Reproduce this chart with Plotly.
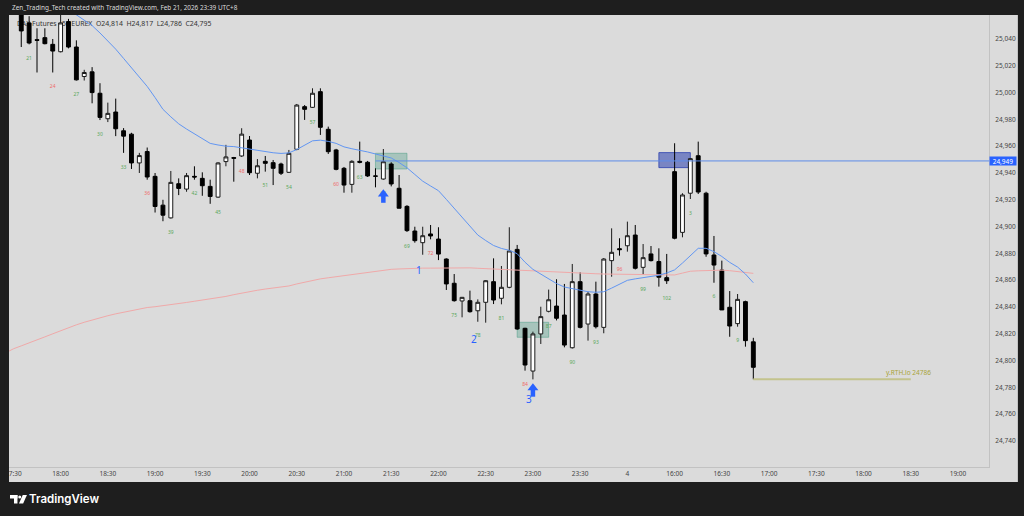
import plotly.graph_objects as go

# ---------------- data ----------------
bar_idx = list(range(1, 95))
opens = [25058, 25052, 25039.5, 25041, 25036, 25030.5, 25053, 25034, 25012, 25015.5,
         24999.5, 24980.5, 24985.5, 24971.5, 24969, 24947.5, 24956, 24937.5, 24916, 24906.5,
         24932, 24928, 24937.5, 24936, 24930, 24922, 24948.5, 24951.5, 24952.7, 24964.6,
         24939.8, 24948.7, 24947.7, 24946.7, 24940.5, 24957.7, 24989.5, 24989, 25000.7, 24972.6,
         24957.2, 24943.5, 24931.5, 24948.7, 24948, 24937.8, 24935.5, 24946.7, 24928.6, 24915.1,
         24896.7, 24888, 24894.5, 24890.7, 24875.8, 24857.7, 24844.5, 24844.7, 24837.2, 24843.5,
         24858.9, 24846.5, 24854.7, 24883, 24824.1, 24792.2, 24819.9, 24836.8, 24840.7, 24834,
         24809.6, 24858.9, 24827.3, 24849.7, 24824.8, 24874.6, 24883.5, 24885.7, 24893.7, 24869.6,
         24879.6, 24873.9, 24861.9, 24941, 24895.7, 24924.9, 24952.9, 24924.9, 24878.8, 24867.6,
         24839.8, 24827.6, 24844, 24814]
highs = [25062, 25057, 25048, 25048, 25040, 25058, 25055, 25039, 25017, 25019,
         25007, 24992.5, 24995.5, 24973.5, 24970, 24955, 24959, 24940, 24920, 24941.5,
         24936, 24940, 24945, 24940.5, 24935, 24948, 24961, 24952, 24973.4, 24967.6,
         24950.4, 24952.7, 24949.7, 24947.7, 24957.2, 24991.5, 24990.7, 25003.2, 25003.2, 24974.6,
         24958, 24944.5, 24949.5, 24963.4, 24949, 24943.5, 24957.9, 24948, 24938.5, 24916,
         24899.9, 24899.9, 24901.2, 24899.5, 24876.3, 24864.6, 24847.5, 24852.2, 24845.7, 24860,
         24876.3, 24870.6, 24899.5, 24886.3, 24824.5, 24821.6, 24840.2, 24853, 24860.7, 24857.2,
         24872.1, 24865.9, 24851.4, 24858.9, 24876.5, 24898.7, 24891.3, 24903.7, 24901.2, 24887,
         24885.5, 24883.8, 24879.6, 24962.2, 24924.9, 24951.2, 24963.4, 24926, 24893, 24874.6,
         24851.9, 24849.7, 24844.7, 24817]
lows = [25034, 25036, 25015, 25036, 25015, 25030, 25033, 25009, 25009, 24992,
        24979.5, 24978, 24967.5, 24955, 24943, 24940, 24935, 24910.5, 24904, 24906,
        24923.5, 24926, 24935, 24923, 24917, 24921.5, 24945, 24933.5, 24952, 24938.5,
        24936, 24941, 24931, 24938.5, 24940, 24957, 24979.6, 24988.5, 24968.4, 24954.2,
        24942, 24925.3, 24925.3, 24947.2, 24937, 24929.3, 24935, 24930, 24913.7, 24896,
        24888, 24879, 24890.5, 24875, 24852.7, 24844, 24832.3, 24835.8, 24829, 24828.3,
        24842.2, 24842, 24854, 24823, 24792.5, 24786, 24812.4, 24836, 24830, 24809.9,
        24809, 24824, 24814.9, 24824, 24820.4, 24862.6, 24878.3, 24881.3, 24868, 24864,
        24874, 24855.2, 24857.2, 24890.5, 24892, 24920.6, 24924.3, 24877.5, 24858.1, 24837.8,
        24817.8, 24825.3, 24810.4, 24786]
closes = [25046, 25037, 25039, 25036.5, 25031, 25052, 25034, 25009.5, 25015, 25000,
          24981.5, 24984.5, 24973, 24967.5, 24947.5, 24953, 24937, 24915, 24908.5, 24933,
          24928.5, 24938, 24937, 24930.5, 24922.5, 24947.5, 24952, 24951, 24969, 24940.2,
          24945.4, 24947.2, 24943.5, 24939.8, 24954.7, 24990.7, 24987.5, 24999.5, 24974.1, 24955.9,
          24942.7, 24931, 24948.7, 24948, 24937.8, 24937.6, 24948.4, 24931.8, 24913.7, 24897,
          24889.5, 24893.2, 24893, 24879.5, 24857.2, 24844.7, 24847.2, 24836.5, 24843.5, 24859.6,
          24845.2, 24854.7, 24881.8, 24823.6, 24796.7, 24819.9, 24832.8, 24845.4, 24831.6, 24811.6,
          24858.9, 24824.8, 24849.7, 24825.3, 24875.8, 24880.8, 24882.8, 24893.2, 24868.9, 24876.8,
          24874.6, 24862.2, 24859.6, 24891.3, 24923.6, 24950.7, 24925.8, 24879.6, 24871.3, 24837.8,
          24825.8, 24845.7, 24814.9, 24795]

ema_fast_idx = list(range(6, 95))
ema_fast = [25066.1, 25062.0, 25058.1, 25054.0, 25050.0, 25044.5, 25038.6, 25032.4, 25025.5, 25018.7,
            25011.8, 25004.6, 24996.3, 24987.5, 24981.9, 24976.7, 24972.8, 24969.2, 24965.6, 24962.1,
            24960.9, 24960.0, 24959.7, 24958.8, 24957.7, 24956.7, 24955.9, 24955.1, 24954.6, 24955.0,
            24957.5, 24960.6, 24964.0, 24964.5, 24963.6, 24962.1, 24959.5, 24958.1, 24957.0, 24955.7,
            24954.2, 24952.7, 24951.2, 24947.8, 24943.9, 24938.9, 24933.9, 24930.3, 24926.8, 24920.3,
            24913.7, 24906.9, 24899.9, 24893.7, 24889.6, 24885.9, 24883.7, 24882.3, 24879.8, 24873.4,
            24868.1, 24864.6, 24861.0, 24857.5, 24854.9, 24853.9, 24852.8, 24851.4, 24851.0, 24851.4,
            24854.1, 24856.9, 24859.9, 24861.0, 24862.0, 24862.9, 24863.7, 24865.4, 24867.7, 24872.8,
            24878.3, 24883.8, 24883.8, 24881.3, 24877.7, 24873.3, 24869.8, 24864.6, 24858.1]

ema_slow_idx = list(range(-1, 95))
ema_slow = [24805.7, 24808.8, 24811.0, 24813.1, 24815.3, 24817.7, 24820.0, 24822.4, 24824.7, 24826.7,
            24828.6, 24830.4, 24832.1, 24833.5, 24834.9, 24836.2, 24837.3, 24838.4, 24839.6, 24840.2,
            24840.9, 24841.6, 24842.5, 24843.4, 24844.3, 24845.1, 24845.9, 24846.7, 24847.9, 24849.2,
            24850.4, 24851.5, 24852.5, 24853.4, 24854.0, 24854.7, 24855.7, 24857.2, 24858.6, 24860.1,
            24861.0, 24861.8, 24862.6, 24863.5, 24864.5, 24865.3, 24866.0, 24866.7, 24867.4, 24868.1,
            24868.4, 24868.7, 24868.9, 24869.0, 24869.0, 24869.1, 24869.2, 24869.2, 24869.3, 24869.2,
            24868.9, 24868.6, 24868.4, 24868.1, 24867.8, 24867.5, 24867.2, 24866.9, 24866.5, 24866.1,
            24865.8, 24865.5, 24865.3, 24865.1, 24864.9, 24864.8, 24864.6, 24864.5, 24864.4, 24864.3,
            24864.2, 24864.1, 24864.0, 24863.9, 24863.9, 24863.9, 24865.3, 24866.7, 24867.0, 24867.2,
            24867.4, 24867.5, 24867.1, 24866.4, 24865.8, 24865.1]

count_idx = [2, 5, 8, 11, 14, 17, 20, 23, 26, 29, 32, 35, 38, 41, 44, 47, 50, 53, 56, 59,
             62, 65, 68, 71, 74, 77, 80, 83, 86, 89, 92]
count_txt = ["21", "24", "27", "30", "33", "36", "39", "42", "45", "48", "51", "54", "57", "60",
             "63", "66", "69", "72", "75", "78", "81", "84", "87", "90", "93", "96", "99", "102",
             "3", "6", "9"]

tick_idx = [0, 6, 12, 18, 24, 30, 36, 42, 48, 54, 60, 66, 72, 78, 84, 90, 96, 102, 108, 114, 120]
tick_txt = ["17:30", "18:00", "18:30", "19:00", "19:30", "20:00", "20:30", "21:00", "21:30",
            "22:00", "22:30", "23:00", "23:30", "4", "16:00", "16:30", "17:00", "17:30",
            "18:00", "18:30", "19:00"]
price_ticks = list(range(24740, 25041, 20))

zone_from = [46, 64, 82]
zone_to = [50, 68, 86]
zone_top = [24954.7, 24828.6, 24955.2]
zone_bot = [24943.0, 24817.4, 24944.0]

signal_idx = [47, 66]
signal_tip = [24927.8, 24783.1]

wave_idx = [51.5, 58.5, 65.5]
wave_price = [24867.6, 24816.1, 24771.3]
wave_txt = ["1", "2", "3"]

level_price = 24949
level_from = 46
rth_lo = 24786
rth_from = 94
rth_to = 114

# ---------------- layout constants ----------------
W, H = 1024, 516
L, R, T, B = 5, 35, 15, 49
X_MIN, X_MAX = -0.557, 123.94
Y_MIN, Y_MAX = 24720.6, 25057.9
PW, PH = W - L - R, H - T - B
PX_PRICE = (Y_MAX - Y_MIN) / PH   # price units per pixel
FONT = "Noto Sans"
BLUE = "#2962ff"


def px(x):
    return (x - L) / PW


def py(y):
    return (H - B - y) / PH


fig = go.Figure()

fig.add_trace(go.Scatter(x=ema_slow_idx, y=ema_slow, mode="lines",
                         line=dict(color="#f0a9a9", width=1), hoverinfo="skip"))
fig.add_trace(go.Scatter(x=ema_fast_idx, y=ema_fast, mode="lines",
                         line=dict(color="#6296f2", width=1), hoverinfo="skip"))
fig.add_trace(go.Scatter(x=[level_from, X_MAX], y=[level_price, level_price], mode="lines",
                         line=dict(color="#5d8ce8", width=1), hoverinfo="skip"))
fig.add_trace(go.Scatter(x=[rth_from, rth_to], y=[rth_lo, rth_lo], mode="lines",
                         line=dict(color="#c3c38d", width=2), hoverinfo="skip"))

fig.add_trace(go.Candlestick(
    x=bar_idx, open=opens, high=highs, low=lows, close=closes,
    increasing=dict(fillcolor="#ffffff", line=dict(color="#1a1a1a", width=1)),
    decreasing=dict(fillcolor="#000000", line=dict(color="#000000", width=1)),
    whiskerwidth=0, hoverinfo="skip"))

low_by_idx = dict(zip(bar_idx, lows))
fig.add_trace(go.Scatter(
    x=count_idx, y=[low_by_idx[i] - 14.5 * PX_PRICE for i in count_idx], mode="text", text=count_txt,
    textfont=dict(family=FONT, size=5,
                  color=["#ef6a6a" if int(t) % 12 == 0 else "#5aa85a" for t in count_txt]),
    hoverinfo="skip"))

# signal arrows: shaft + head
fig.add_trace(go.Scatter(
    x=signal_idx, y=[p - 9.6 * PX_PRICE for p in signal_tip], mode="markers",
    marker=dict(symbol="line-ns", size=5.5, line=dict(color=BLUE, width=4.5)), hoverinfo="skip"))
fig.add_trace(go.Scatter(
    x=signal_idx, y=[p - 4.7 * PX_PRICE for p in signal_tip], mode="markers",
    marker=dict(symbol="triangle-up", size=9.5, color=BLUE, line=dict(width=0)), hoverinfo="skip"))

shapes = []
shapes.append(dict(type="rect", xref="paper", yref="paper", x0=0, x1=px(1018), y0=py(482), y1=1,
                   fillcolor="#dbdbdb", line=dict(width=0), layer="below"))
shapes.append(dict(type="rect", xref="paper", yref="paper", x0=px(10), x1=px(320), y0=py(28.5), y1=py(19.5),
                   fillcolor="rgba(0,0,0,0)", line=dict(width=0), layer="below",
                   label=dict(text="DAX Futures · 5 · EUREX  O24,814  H24,817  L24,786  C24,795",
                              textposition="middle left", padding=0,
                              font=dict(family=FONT, size=6.9, color="#333333"))))
zone_fill = ["rgba(60,150,125,0.32)", "rgba(60,150,125,0.32)", "rgba(40,62,175,0.55)"]
zone_line = ["rgba(60,150,125,0.45)", "rgba(60,150,125,0.45)", "rgba(40,62,175,0.75)"]
for k in range(len(zone_from)):
    shapes.append(dict(type="rect", xref="x", yref="y", x0=zone_from[k], x1=zone_to[k],
                       y0=zone_bot[k], y1=zone_top[k], fillcolor=zone_fill[k],
                       line=dict(color=zone_line[k], width=1), layer="below"))
shapes.append(dict(type="rect", xref="paper", yref="paper", x0=px(0), x1=px(5), y0=py(482), y1=1,
                   fillcolor="#1e1e1e", line=dict(width=0), layer="above"))
# TradingView logo mark
shapes.append(dict(type="rect", xref="paper", yref="paper", x0=px(6), x1=px(13.5), y0=py(498.5), y1=py(495),
                   fillcolor="#ffffff", line=dict(width=0), layer="above"))
shapes.append(dict(type="rect", xref="paper", yref="paper", x0=px(10), x1=px(13.5), y0=py(503.5), y1=py(495),
                   fillcolor="#ffffff", line=dict(width=0), layer="above"))
shapes.append(dict(type="circle", xref="paper", yref="paper", x0=px(14.3), x1=px(17.3), y0=py(498.5), y1=py(495.5),
                   fillcolor="#ffffff", line=dict(width=0), layer="above"))
shapes.append(dict(type="path", xref="paper", yref="paper",
                   path=f"M{px(18.8)},{py(495)} L{px(23)},{py(495)} L{px(19.2)},{py(503.5)} L{px(15)},{py(503.5)} Z",
                   fillcolor="#ffffff", line=dict(width=0), layer="above"))

annotations = []
annotations.append(dict(xref="paper", yref="paper", x=px(6), y=py(7.5), xanchor="left", yanchor="middle",
                        text="Zen_Trading_Tech created with TradingView.com, Feb 21, 2026 23:39 UTC+8",
                        showarrow=False, font=dict(family=FONT, size=6.4, color="#dcdcdc")))
annotations.append(dict(xref="paper", yref="paper", x=px(23), y=py(499.5), xanchor="left", yanchor="middle",
                        text="TradingView", showarrow=False,
                        font=dict(family="Inter", size=11.5, color="#ffffff", weight=600)))
for i, p, t in zip(wave_idx, wave_price, wave_txt):
    annotations.append(dict(x=i, y=p, xref="x", yref="y", text=t, showarrow=False,
                            font=dict(family=FONT, size=10, color=BLUE)))
annotations.append(dict(x=rth_to, y=rth_lo, xref="x", yref="y", text="y.RTH.lo 24786",
                        xanchor="right", yanchor="bottom", xshift=22, showarrow=False,
                        font=dict(family=FONT, size=6.5, color="#a8a338")))
annotations.append(dict(xref="paper", yref="y", x=1, y=level_price, xanchor="left", yanchor="middle",
                        text="24,949", showarrow=False, bgcolor=BLUE, width=26, height=8, borderpad=0,
                        font=dict(family=FONT, size=6.5, color="#ffffff")))

fig.update_layout(
    width=W, height=H,
    margin=dict(l=L, r=R, t=T, b=B, pad=0),
    paper_bgcolor="#1e1e1e",
    plot_bgcolor="#dbdbdb",
    showlegend=False,
    shapes=shapes,
    annotations=annotations,
    xaxis=dict(range=[X_MIN, X_MAX], tickvals=tick_idx, ticktext=tick_txt, showgrid=False,
               zeroline=False, showline=True, linecolor="#c2c2c2", linewidth=1, ticks="",
               tickfont=dict(family=FONT, size=6.5, color="#454545"),
               rangeslider=dict(visible=False), fixedrange=True),
    yaxis=dict(range=[Y_MIN, Y_MAX], side="right", tickvals=price_ticks, tickformat=",d",
               showgrid=False, zeroline=False, showline=True, linecolor="#c2c2c2", linewidth=1,
               ticks="", ticklabelstandoff=4,
               tickfont=dict(family=FONT, size=6.5, color="#454545"), fixedrange=True),
)

fig.write_html("out.html", config={"displayModeBar": False},
               post_script="document.body.style.margin='0';")
